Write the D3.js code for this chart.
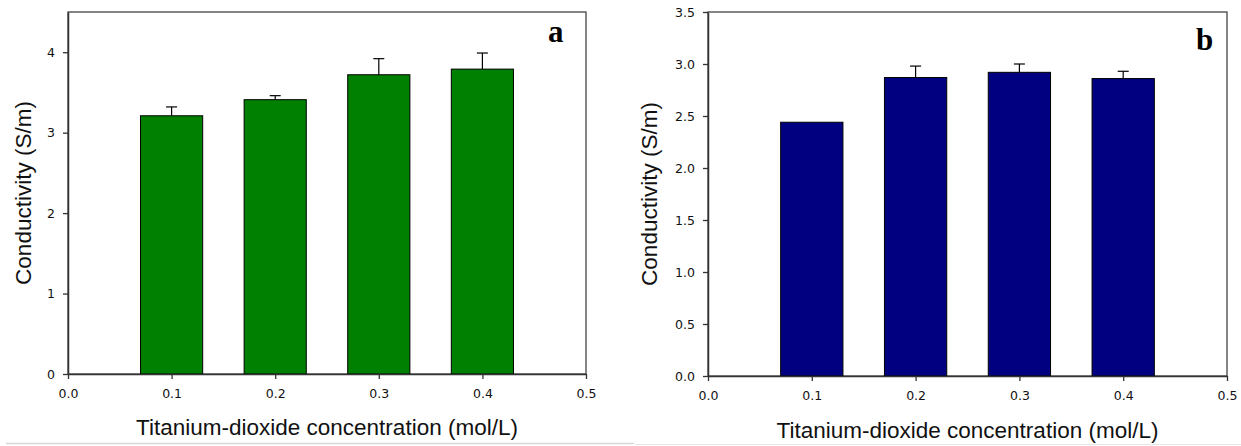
<!DOCTYPE html>
<html><head><meta charset="utf-8">
<script src="https://cdn.jsdelivr.net/npm/d3@7"></script>
<style>
html,body{margin:0;padding:0;background:#fff;}
svg{display:block;}
</style></head>
<body>
<svg id="chart" width="1241" height="446"></svg>
<script>
// ---- data ----
const concentrations = [0.1, 0.2, 0.3, 0.4];
const conductivityA = [3.21, 3.41, 3.72, 3.79];
const errorA = [0.11, 0.05, 0.20, 0.20];
const conductivityB = [2.44, 2.87, 2.92, 2.86];
const errorB = [0, 0.11, 0.08, 0.07];
const xTicks = [0.0, 0.1, 0.2, 0.3, 0.4, 0.5];
const yTicksA = [0, 1, 2, 3, 4];
const yTicksB = [0.0, 0.5, 1.0, 1.5, 2.0, 2.5, 3.0, 3.5];
const xLabel = "Titanium-dioxide concentration (mol/L)";
const yLabel = "Conductivity (S/m)";
const panelLetters = ["a", "b"];

const svg = d3.select("#chart");
const barWidth = 0.06;

const panels = [
  {letter: panelLetters[0], vals: conductivityA, errs: errorA, yTicks: yTicksA, yMax: 4.5, fmt: d3.format("d"),
   left: 68, right: 586, top: 12, bottom: 374, color: "#008000", letterX: 548, letterY: 42, xlabY: 435, ylabX: 31},
  {letter: panelLetters[1], vals: conductivityB, errs: errorB, yTicks: yTicksB, yMax: 3.5, fmt: d3.format(".1f"),
   left: 708, right: 1227, top: 12, bottom: 376, color: "#000080", letterX: 1196, letterY: 50, xlabY: 438, ylabX: 657}
];

panels.forEach(p => {
  const x = d3.scaleLinear().domain([0, 0.5]).range([p.left, p.right]);
  const y = d3.scaleLinear().domain([0, p.yMax]).range([p.bottom, p.top]);
  const g = svg.append("g");

  // frame
  g.append("rect").attr("x", p.left).attr("y", p.top)
    .attr("width", p.right - p.left).attr("height", p.bottom - p.top)
    .attr("fill", "none").attr("stroke", "#444").attr("stroke-width", 1.3);

  // bars
  const data = concentrations.map((c, i) => ({c, v: p.vals[i], e: p.errs[i]}));
  g.selectAll("rect.bar").data(data).enter().append("rect")
    .attr("class", "bar")
    .attr("x", d => x(d.c - barWidth / 2))
    .attr("y", d => y(d.v))
    .attr("width", d => x(d.c + barWidth / 2) - x(d.c - barWidth / 2))
    .attr("height", d => y(0) - y(d.v))
    .attr("fill", p.color).attr("stroke", "#000").attr("stroke-width", 1);

  // error bars (upper only)
  const eb = g.selectAll("g.err").data(data.filter(d => d.e > 0)).enter().append("g");
  eb.append("line")
    .attr("x1", d => x(d.c)).attr("x2", d => x(d.c))
    .attr("y1", d => y(d.v)).attr("y2", d => y(d.v + d.e))
    .attr("stroke", "#000").attr("stroke-width", 1.2);
  eb.append("line")
    .attr("x1", d => x(d.c) - 5.5).attr("x2", d => x(d.c) + 5.5)
    .attr("y1", d => y(d.v + d.e)).attr("y2", d => y(d.v + d.e))
    .attr("stroke", "#000").attr("stroke-width", 1.2);

  // axes
  const xAxis = g.append("g").attr("transform", `translate(0,${p.bottom})`)
    .call(d3.axisBottom(x).tickValues(xTicks).tickFormat(d3.format(".1f")).tickSize(5).tickSizeOuter(0).tickPadding(10));
  const yAxis = g.append("g").attr("transform", `translate(${p.left},0)`)
    .call(d3.axisLeft(y).tickValues(p.yTicks).tickFormat(p.fmt).tickSize(5).tickSizeOuter(0).tickPadding(8));
  [xAxis, yAxis].forEach(a => {
    a.select(".domain").attr("stroke", "#333").attr("stroke-width", 1.5);
    a.selectAll(".tick line").attr("stroke", "#333").attr("stroke-width", 1.3);
    a.selectAll(".tick text").attr("font-family", "'DejaVu Sans', sans-serif")
      .attr("font-size", 12.5).attr("fill", "#111");
  });

  // axis titles
  g.append("text").attr("x", (p.left + p.right) / 2).attr("y", p.xlabY)
    .attr("text-anchor", "middle").attr("font-family", "Arial, 'Liberation Sans', sans-serif")
    .attr("font-size", 22.5).attr("fill", "#111").text(xLabel);
  g.append("text")
    .attr("transform", `translate(${p.ylabX},${(p.top + p.bottom) / 2}) rotate(-90)`)
    .attr("text-anchor", "middle").attr("font-family", "Arial, 'Liberation Sans', sans-serif")
    .attr("font-size", 22.5).attr("fill", "#111").text(yLabel);

  // panel letter
  g.append("text").attr("x", p.letterX).attr("y", p.letterY)
    .attr("font-family", "'Liberation Serif', 'Times New Roman', serif").attr("font-weight", "bold")
    .attr("font-size", 31).attr("fill", "#000").text(p.letter);
});

// faint bottom edges of the source images
svg.append("line").attr("x1", 6).attr("x2", 634).attr("y1", 443.5).attr("y2", 443.5)
  .attr("stroke", "#d8d8d8").attr("stroke-width", 1.5);
svg.append("line").attr("x1", 635).attr("x2", 1241).attr("y1", 444.5).attr("y2", 444.5)
  .attr("stroke", "#e6e6e6").attr("stroke-width", 1);
</script>
</body></html>
